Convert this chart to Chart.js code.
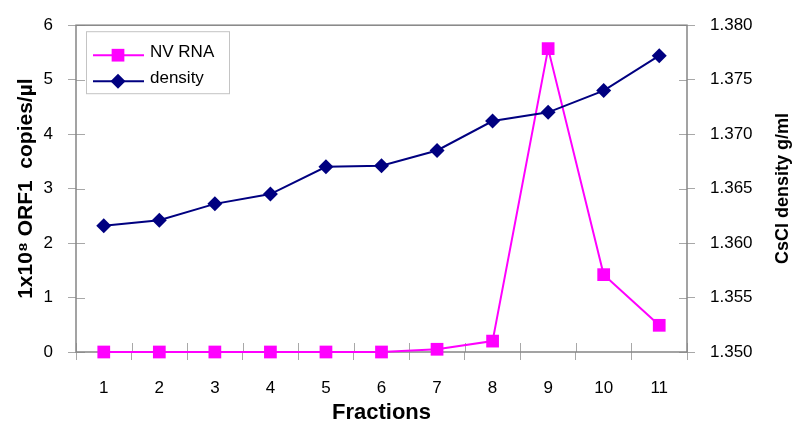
<!DOCTYPE html>
<html>
<head>
<meta charset="utf-8">
<script src="https://cdn.jsdelivr.net/npm/chart.js@4/dist/chart.umd.min.js"></script>
<style>
  html, body { margin: 0; padding: 0; background: #fff; }
  #chart { display: block; }
</style>
</head>
<body>
<canvas id="chart" width="800" height="434"></canvas>
<script>
// chart data
const fractions = ['1', '2', '3', '4', '5', '6', '7', '8', '9', '10', '11'];
const nvRna = [0, 0, 0, 0, 0, 0, 0.05, 0.2, 5.57, 1.42, 0.49];
const density = [1.3616, 1.3621, 1.3636, 1.3645, 1.3670, 1.3671, 1.3685, 1.3712, 1.3720, 1.3740, 1.3772];
const copiesTicks = [0, 1, 2, 3, 4, 5, 6];
const densityTicks = [1.350, 1.355, 1.360, 1.365, 1.370, 1.375, 1.380];
const rightTitle = 'CsCl density g/ml';

const FONT = "Liberation Sans, Arial, sans-serif";
const AXIS_GRAY = '#858585';
const TICK_GRAY = '#a8a8a8';

// ticks in the reference cross the axis line, so draw the inner half too,
// plus the frame round the plot, the upward right title and the boxed legend
const framePlugin = {
    id: 'frame',
    beforeDatasetsDraw(chart) {
        const { ctx, chartArea: a, scales } = chart;
        ctx.save();
        ctx.strokeStyle = TICK_GRAY;
        ctx.lineWidth = 1;
        ctx.beginPath();
        scales.y.ticks.forEach((t, i) => {
            const y = Math.round(scales.y.getPixelForTick(i)) + 0.5;
            ctx.moveTo(a.left, y); ctx.lineTo(a.left + 9, y);
        });
        scales.y2.ticks.forEach((t, i) => {
            const y = Math.round(scales.y2.getPixelForTick(i)) + 0.5;
            ctx.moveTo(a.right - 8, y); ctx.lineTo(a.right, y);
        });
        const n = fractions.length;
        for (let i = 0; i <= n; i++) {
            const x = Math.round(a.left + i * (a.right - a.left) / n) + 0.5;
            ctx.moveTo(x, a.bottom - 9); ctx.lineTo(x, a.bottom);
        }
        ctx.stroke();

        ctx.strokeStyle = AXIS_GRAY;
        ctx.lineWidth = 1.5;
        ctx.strokeRect(a.left, a.top, a.right - a.left, a.bottom - a.top);

        // right axis title reads bottom to top, like the left one
        ctx.translate(783, (a.top + a.bottom) / 2);
        ctx.rotate(-Math.PI / 2);
        ctx.font = 'bold 18px ' + FONT;
        ctx.fillStyle = '#000';
        ctx.textAlign = 'center';
        ctx.textBaseline = 'middle';
        ctx.fillText(rightTitle, 0, 0);
        ctx.restore();
    },
    afterDatasetsDraw(chart) {
        const { ctx, chartArea: a } = chart;
        ctx.save();
        const lx = a.left + 10, ly = a.top + 6, lw = 143, lh = 62;
        ctx.fillStyle = '#fff';
        ctx.fillRect(lx, ly, lw, lh);
        ctx.strokeStyle = '#c4c4c4';
        ctx.lineWidth = 1;
        ctx.strokeRect(lx + 0.5, ly + 0.5, lw, lh);
        ctx.font = '17px ' + FONT;
        ctx.textBaseline = 'middle';
        chart.data.datasets.forEach((ds, i) => {
            const cy = ly + 24 + i * 26;
            ctx.strokeStyle = ds.borderColor;
            ctx.lineWidth = 2;
            ctx.beginPath();
            ctx.moveTo(lx + 7, cy); ctx.lineTo(lx + 58, cy);
            ctx.stroke();
            ctx.fillStyle = ds.pointBackgroundColor;
            Chart.helpers.drawPoint(ctx, { pointStyle: ds.pointStyle, radius: ds.pointRadius, rotation: 0, borderWidth: 0 }, lx + 32, cy);
            ctx.fillStyle = '#000';
            ctx.fillText(ds.label, lx + 64, cy - 3);
        });
        ctx.restore();
    }
};

new Chart(document.getElementById('chart'), {
    type: 'line',
    data: {
        labels: fractions,
        datasets: [
            {
                label: 'NV RNA',
                data: nvRna,
                yAxisID: 'y',
                borderColor: '#ff00ff',
                backgroundColor: '#ff00ff',
                pointBackgroundColor: '#ff00ff',
                pointBorderWidth: 0,
                pointStyle: 'rect',
                pointRadius: 9,
                borderWidth: 2,
                tension: 0,
                clip: false,
                order: 1
            },
            {
                label: 'density',
                data: density,
                yAxisID: 'y2',
                borderColor: '#000080',
                backgroundColor: '#000080',
                pointBackgroundColor: '#000080',
                pointBorderWidth: 0,
                pointStyle: 'rectRot',
                pointRadius: 7.5,
                borderWidth: 2,
                tension: 0,
                clip: false,
                order: 0
            }
        ]
    },
    options: {
        responsive: false,
        animation: false,
        layout: { padding: { top: 22, left: 0, right: 0, bottom: 0 } },
        plugins: {
            legend: { display: false },
            tooltip: { enabled: false }
        },
        scales: {
            x: {
                offset: true,
                grid: { display: true, drawOnChartArea: false, offset: true, tickLength: 8, color: TICK_GRAY },
                border: { display: false },
                ticks: { color: '#000', padding: 18, font: { family: FONT, size: 17 } },
                title: {
                    display: true, text: 'Fractions', color: '#000',
                    padding: { top: 0, bottom: 8 },
                    font: { family: FONT, size: 22, weight: 'bold' }
                },
                afterFit(scale) { scale.height = 82; }
            },
            y: {
                position: 'left',
                min: 0, max: 6,
                afterBuildTicks(scale) { scale.ticks = copiesTicks.map(v => ({ value: v })); },
                grid: { display: true, drawOnChartArea: false, tickLength: 8, color: TICK_GRAY },
                border: { display: false },
                ticks: { color: '#000', padding: 15, font: { family: FONT, size: 17 } },
                title: {
                    display: true, text: '1x10\u2078 ORF1  copies/\u00b5l', color: '#000',
                    padding: { top: 14, bottom: 0 },
                    font: { family: FONT, size: 21, weight: 'bold' }
                },
                afterFit(scale) { scale.width = 76; }
            },
            y2: {
                position: 'right',
                min: 1.350, max: 1.380,
                afterBuildTicks(scale) { scale.ticks = densityTicks.map(v => ({ value: v })); },
                grid: { display: true, drawOnChartArea: false, tickLength: 8, color: TICK_GRAY },
                border: { display: false },
                ticks: {
                    color: '#000', padding: 15, font: { family: FONT, size: 17 },
                    callback: v => Number(v).toFixed(3)
                },
                title: { display: false },
                afterFit(scale) { scale.width = 113; }
            }
        }
    },
    plugins: [framePlugin]
});
</script>
</body>
</html>
